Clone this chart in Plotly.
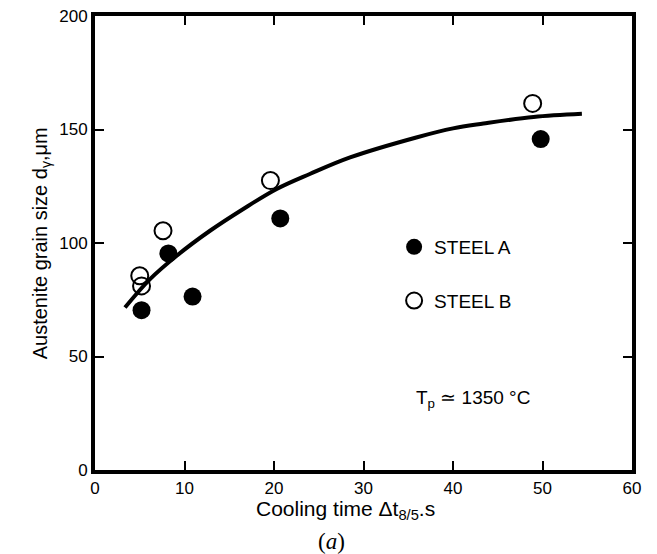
import plotly.graph_objects as go

# Steel A (filled circles)
steel_a_x = [5.2, 8.2, 10.9, 20.7, 49.8]
steel_a_y = [70.4, 95.4, 76.4, 110.8, 145.8]

# Steel B (open circles)
steel_b_x = [5.0, 5.2, 7.6, 19.6, 48.9]
steel_b_y = [85.6, 81.1, 105.4, 127.5, 161.5]

# Fitted trend curve
curve_x = [3.35, 6.15, 9.13, 12.85, 16.57, 20.3, 24.0, 28.5, 35.9, 40.0, 43.4, 49.0, 54.4]
curve_y = [71.6, 84.1, 94.4, 105.4, 115.0, 123.8, 130.4, 137.7, 146.5, 150.5, 152.6, 155.5, 156.9]

x_ticks = [0, 10, 20, 30, 40, 50, 60]
y_ticks = [0, 50, 100, 150, 200]

FONT = "Liberation Sans, Arial, sans-serif"

fig = go.Figure()
fig.add_trace(go.Scatter(x=curve_x, y=curve_y, mode="lines",
                         line=dict(color="black", width=4, shape="spline", smoothing=1.0),
                         showlegend=False, hoverinfo="skip"))
fig.add_trace(go.Scatter(x=steel_a_x, y=steel_a_y, mode="markers", name="STEEL A",
                         legendgroup="a",
                         marker=dict(symbol="circle", size=18, color="black",
                                     line=dict(width=0))))
fig.add_trace(go.Scatter(x=steel_b_x, y=steel_b_y, mode="markers", name="STEEL B",
                         legendgroup="b",
                         marker=dict(symbol="circle-open", size=17, color="black",
                                     line=dict(width=2, color="black"))))

axis_common = dict(
    showgrid=False, zeroline=False, showline=True, linecolor="black", linewidth=4,
    mirror="ticks", ticks="inside", ticklen=9, tickwidth=2, tickcolor="black",
    automargin=False, ticklabeloverflow="allow",
    tickfont=dict(family=FONT, size=17, color="black"),
)
fig.update_xaxes(range=[0, 60], tickvals=x_ticks, ticktext=[str(v) for v in x_ticks],
                 **axis_common)
fig.update_yaxes(range=[0, 200], tickvals=y_ticks, ticktext=[str(v) for v in y_ticks],
                 **axis_common)

fig.add_annotation(text="Austenite grain size d<sub>γ</sub>,μm", xref="paper", yref="paper",
                   x=-0.1, y=0.5, xanchor="center", yanchor="middle", textangle=-90,
                   showarrow=False, font=dict(family=FONT, size=20, color="black"))
fig.add_annotation(text="Cooling time Δt<sub>8/5</sub>.s", xref="paper", yref="paper",
                   x=0.466, y=-0.088, xanchor="center", yanchor="middle",
                   showarrow=False, font=dict(family=FONT, size=21, color="black"))
fig.add_annotation(text="(<i>a</i>)", xref="paper", yref="paper",
                   x=0.44, y=-0.157, xanchor="center", yanchor="middle",
                   showarrow=False, font=dict(family="Liberation Serif, Times New Roman, serif",
                                              size=23, color="black"))
fig.add_annotation(text="T<sub>p</sub> ≃ 1350 °C", xref="paper", yref="paper",
                   x=0.703, y=0.156, xanchor="center", yanchor="middle",
                   showarrow=False, font=dict(family=FONT, size=19, color="black"))

fig.update_layout(
    width=649, height=546,
    margin=dict(l=87, r=25, t=8, b=84),
    paper_bgcolor="white", plot_bgcolor="white",
    showlegend=True,
    legend=dict(x=0.557, y=0.533, xanchor="left", yanchor="top",
                bgcolor="rgba(0,0,0,0)", borderwidth=0, tracegroupgap=26,
                font=dict(family=FONT, size=19, color="black")),
)

fig.write_html("out.html")
